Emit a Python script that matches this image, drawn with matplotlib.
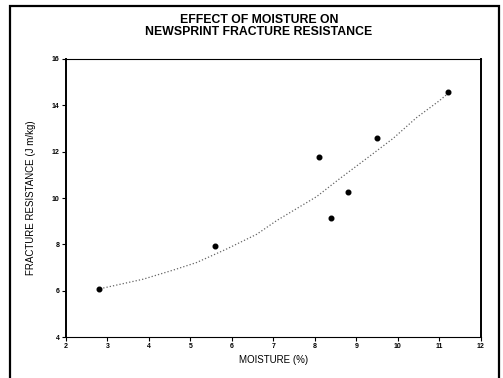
import numpy as np
import matplotlib.pyplot as plt
from matplotlib.patches import Rectangle

# measured points
moisture = [2.8, 5.6, 8.1, 8.4, 8.8, 9.5, 11.2]
resistance = [6.07, 7.94, 11.76, 9.16, 10.25, 12.58, 14.58]

# trend curve
curve_x = [2.9, 3.86, 4.58, 5.15, 5.87, 6.6, 7.08, 8.04, 8.6, 9.33, 9.89, 10.45, 11.0, 11.2]
curve_y = [6.12, 6.5, 6.89, 7.22, 7.8, 8.44, 9.03, 10.06, 10.84, 11.82, 12.58, 13.47, 14.2, 14.5]

xticks = [2, 3, 4, 5, 6, 7, 8, 9, 10, 11, 12]
yticks = [4, 6, 8, 10, 12, 14, 16]

plt.rcParams['font.family'] = ['Liberation Sans', 'DejaVu Sans']

fig = plt.figure(figsize=(5.03, 3.78), dpi=100)
ax = fig.add_axes([0.131, 0.108, 0.825, 0.736])

ax.plot(curve_x, curve_y, ls=':', c='#666666', lw=0.9)
ax.scatter(moisture, resistance, s=11, c='black', zorder=3)

ax.set_xlim(2, 12)
ax.set_ylim(4, 16)
ax.set_xticks(xticks)
ax.set_yticks(yticks)
ax.tick_params(axis='both', labelsize=5, length=3, width=0.8, pad=1.5)
for lab in ax.get_xticklabels() + ax.get_yticklabels():
    lab.set_fontweight('bold')

for side in ['left', 'right']:
    ax.spines[side].set_linewidth(1.4)
for side in ['top', 'bottom']:
    ax.spines[side].set_linewidth(0.8)

ax.set_xlabel('MOISTURE (%)', fontsize=7, labelpad=3)
ax.set_ylabel('FRACTURE RESISTANCE (J m/kg)', fontsize=7, labelpad=11)

fig.text(0.515, 0.931, 'EFFECT OF MOISTURE ON\nNEWSPRINT FRACTURE RESISTANCE',
         ha='center', va='center', fontsize=8.8, fontweight='bold', linespacing=0.95)

# outer frame
fig.patches.append(Rectangle((0.02, -0.05), 0.973, 1.034, transform=fig.transFigure,
                             fill=False, lw=1.6, ec='black'))

plt.savefig('out.png', dpi=100)
